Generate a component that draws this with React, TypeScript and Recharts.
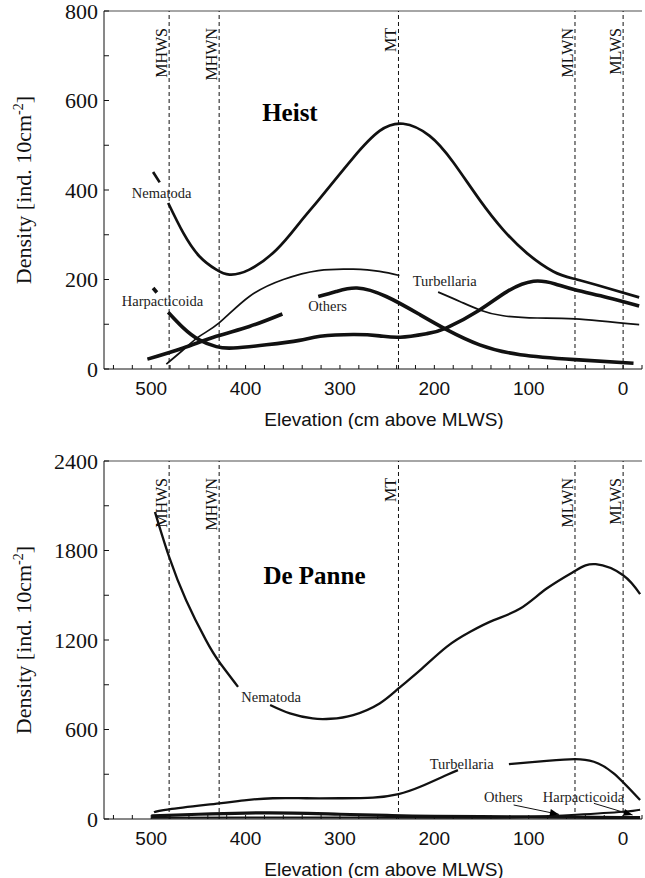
import React from 'react';
import { LineChart, Line, XAxis, YAxis, ReferenceLine, ReferenceDot } from 'recharts';

const SERIF = '"Liberation Serif", "Times New Roman", serif';
const SANS = '"Liberation Sans", Arial, sans-serif';
const INK = '#111';

// x axis (elevation, cm above MLWS)
const xTicks = [540, 520, 500, 480, 460, 440, 420, 400, 380, 360, 340, 320, 300, 280, 260, 240, 220, 200, 180, 160, 140, 120, 100, 80, 60, 40, 20, 0, -20];
const xTickLabels = [500, 400, 300, 200, 100, 0];

// tidal levels
const tideNames = ['MHWS', 'MHWN', 'MT', 'MLWN', 'MLWS'];
const tideElev = [481, 428, 238, 51, 0];

// ---- Heist ----
const heistYTicks = [0, 100, 200, 300, 400, 500, 600, 700, 800];
const heistYLabels = [0, 200, 400, 600, 800];

// null = gap left for a label
const heistNemElev = [498, 491, 487, 482, 466, 449, 431, 417, 396, 367, 343, 321, 286, 258, 233, 205, 180, 152, 127, 102, 74, 51, 17, -17];
const heistNemDens = [440, 417, null, 371, 304, 252, 222, 211, 222, 267, 326, 382, 472, 532, 548, 521, 462, 378, 311, 259, 218, 201, 181, 160];

const heistHarpElev = [498, 494, 489, 482, 466, 449, 431, 413, 378, 343, 321, 286, 258, 236, 208, 187, 152, 123, 95, 72, 51, 17, -17];
const heistHarpDens = [181, 171, null, 127, 92, 65, 50, 47, 54, 64, 73, 77, 74, 71, 79, 92, 132, 173, 196, 190, 177, 160, 141];

const heistTurbElev = [484, 466, 449, 428, 396, 360, 323, 286, 258, 237, 215, 196, 173, 152, 127, 91, 51, -17];
const heistTurbDens = [11, 43, 73, 103, 162, 200, 220, 223, 218, 209, null, 172, 151, 132, 119, 114, 112, 99];

const heistOthElev = [504, 466, 431, 396, 361, 342, 323, 304, 282, 251, 215, 187, 152, 109, 51, -11];
const heistOthDens = [22, 47, 73, 95, 123, null, 162, 173, 181, 162, 121, 88, 54, 32, 21, 13];

const heistTagText = ['Nematoda', 'Harpacticoida', 'Others', 'Turbellaria'];
const heistTagElev = [489, 488, 313, 189];
const heistTagDens = [393, 151, 140, 196];

// ---- De Panne ----
const panneYTicks = [0, 300, 600, 900, 1200, 1500, 1800, 2100, 2400];
const panneYLabels = [0, 600, 1200, 1800, 2400];

const panneNemElev = [496, 481, 463, 442, 428, 408, 390, 374, 353, 329, 310, 286, 258, 238, 215, 187, 162, 137, 109, 81, 51, 29, 0, -18];
const panneNemDens = [2058, 1757, 1467, 1199, 1054, 886, null, 764, 708, 674, 672, 697, 775, 875, 998, 1154, 1255, 1333, 1411, 1545, 1663, 1708, 1634, 1507];

const panneTurbElev = [497, 481, 428, 399, 371, 336, 300, 265, 238, 215, 187, 175, 150, 121, 81, 51, 31, 10, -18];
const panneTurbDens = [45, 65, 105, 127, 139, 139, 139, 143, 167, 216, 295, 328, null, 368, 390, 402, 384, 306, 127];

const panneOthElev = [500, 450, 400, 350, 300, 250, 200, 100, 50, 0, -18];
const panneOthDens = [20, 32, 40, 40, 32, 24, 18, 14, 12, 10, 10];

const panneHarpElev = [500, 400, 300, 200, 150, 100, 50, 0, -18];
const panneHarpDens = [8, 10, 10, 8, 8, 14, 28, 48, 62];

const panneTagText = ['Nematoda', 'Turbellaria', 'Others', 'Harpacticoida'];
const panneTagElev = [373, 171, 127, 42];
const panneTagDens = [815, 368, 145, 149];

// label arrows: from (elev, dens) to (elev, dens)
const panneArrowFrom = [[116, 94], [31, 105]];
const panneArrowTo = [[68, 31], [-10, 27]];
const panneArrowAngle = [12, 17];

const pts = (xs: number[], ys: (number | null)[]) => xs.map((x, i) => ({ x, y: ys[i] }));

const centerText = (text: string, size: number, bold = false) => (props: any) => {
  const vb = props.viewBox;
  const cx = vb.x + vb.width / 2;
  const cy = vb.y + vb.height / 2;
  return (
    <text x={cx} y={cy} textAnchor="middle" dominantBaseline="central" fontFamily={SERIF}
      fontSize={size} fontWeight={bold ? 'bold' : 'normal'} fill={bold ? '#000' : '#222'}>
      {text}
    </text>
  );
};

const tideLabel = (name: string) => (props: any) => {
  const { x, y } = props.viewBox;
  const bx = x - 2;
  const by = y + 17;
  return (
    <text transform={`rotate(-90 ${bx} ${by})`} x={bx} y={by} textAnchor="end"
      fontFamily={SERIF} fontSize={16} fill="#111">
      {name}
    </text>
  );
};

const YTitle = (props: any) => {
  const { y, height } = props.viewBox;
  const cx = 31;
  const cy = y + height / 2;
  return (
    <text transform={`rotate(-90 ${cx} ${cy})`} x={cx} y={cy} textAnchor="middle"
      fontFamily={SERIF} fontSize={22} fill="#111">
      Density [ind. 10cm<tspan dy={-8} fontSize={14}>-2</tspan><tspan dy={8}>]</tspan>
    </text>
  );
};

const XTitle = (props: any) => {
  const { x, y } = props.viewBox;
  return (
    <text x={x + 280} y={y + 50} textAnchor="middle" dominantBaseline="central"
      fontFamily={SANS} fontSize={19} fill="#111">
      Elevation (cm above MLWS)
    </text>
  );
};

const arrowHead = (angle: number) => (p: any) => (
  <polygon
    points={`${p.cx},${p.cy} ${p.cx - 9},${p.cy - 3.5} ${p.cx - 9},${p.cy + 3.5}`}
    transform={`rotate(${angle} ${p.cx} ${p.cy})`}
    fill="#000"
  />
);

type Series = { data: { x: number; y: number | null }[]; width: number };

interface PanelProps {
  top: number;
  height: number;
  xAxisHeight: number;
  yMax: number;
  yTicks: number[];
  yLabels: number[];
  series: Series[];
  title: string;
  titleElev: number;
  titleDens: number;
  tagText: string[];
  tagElev: number[];
  tagDens: number[];
  arrowFrom?: number[][];
  arrowTo?: number[][];
  arrowAngle?: number[];
}

const Panel = (p: PanelProps) => (
  <div style={{ position: 'absolute', left: 0, top: p.top }}>
    <LineChart width={645} height={p.height} margin={{ top: 11, right: 3, left: 0, bottom: 0 }}>
      <XAxis
        type="number"
        dataKey="x"
        domain={[-20, 550]}
        reversed
        allowDataOverflow
        ticks={xTicks}
        interval={0}
        tickFormatter={(v: number) => (xTickLabels.includes(v) ? String(v) : '')}
        tickSize={-4}
        tickMargin={17}
        height={p.xAxisHeight}
        stroke="#111"
        tick={{ fontFamily: SANS, fontSize: 19, fill: '#111' }}
        label={XTitle}
      />
      <YAxis
        type="number"
        domain={[0, p.yMax]}
        ticks={p.yTicks}
        interval={0}
        allowDataOverflow
        tickFormatter={(v: number) => (p.yLabels.includes(v) ? String(v) : '')}
        width={104}
        tickSize={-5}
        tickMargin={11}
        stroke="#111"
        tick={{ fontFamily: SERIF, fontSize: 22, fill: '#111' }}
        label={YTitle}
      />
      <ReferenceLine y={p.yMax} stroke="#888" strokeWidth={1.5} />
      {tideNames.map((n, i) => (
        <ReferenceLine key={n} x={tideElev[i]} stroke="#111" strokeWidth={1} strokeDasharray="4 3" label={tideLabel(n)} />
      ))}
      {p.series.map((s, i) => (
        <Line
          key={i}
          data={s.data}
          dataKey="y"
          type="natural"
          stroke={INK}
          strokeWidth={s.width}
          dot={false}
          activeDot={false}
          isAnimationActive={false}
        />
      ))}
      <ReferenceDot x={p.titleElev} y={p.titleDens} r={0} fill="none" stroke="none" label={centerText(p.title, 25, true)} />
      {p.tagText.map((t, i) => (
        <ReferenceDot key={t} x={p.tagElev[i]} y={p.tagDens[i]} r={0} fill="none" stroke="none" label={centerText(t, 14.5)} />
      ))}
      {(p.arrowFrom || []).map((f, i) => (
        <ReferenceLine
          key={'a' + i}
          segment={[{ x: f[0], y: f[1] }, { x: p.arrowTo![i][0], y: p.arrowTo![i][1] }]}
          stroke="#111"
          strokeWidth={1}
        />
      ))}
      {(p.arrowTo || []).map((t, i) => (
        <ReferenceDot key={'h' + i} x={t[0]} y={t[1]} r={3} shape={arrowHead(p.arrowAngle![i])} />
      ))}
    </LineChart>
  </div>
);

export default function App() {
  return (
    <div style={{ position: 'absolute', left: 0, top: 0, width: 645, height: 878, background: '#fff' }}>
      <Panel
        top={0}
        height={429}
        xAxisHeight={60}
        yMax={800}
        yTicks={heistYTicks}
        yLabels={heistYLabels}
        series={[
          { data: pts(heistNemElev, heistNemDens), width: 2.7 },
          { data: pts(heistHarpElev, heistHarpDens), width: 3.6 },
          { data: pts(heistTurbElev, heistTurbDens), width: 1.7 },
          { data: pts(heistOthElev, heistOthDens), width: 3.6 },
        ]}
        title="Heist"
        titleElev={353}
        titleDens={573}
        tagText={heistTagText}
        tagElev={heistTagElev}
        tagDens={heistTagDens}
      />
      <Panel
        top={450}
        height={428}
        xAxisHeight={59}
        yMax={2400}
        yTicks={panneYTicks}
        yLabels={panneYLabels}
        series={[
          { data: pts(panneNemElev, panneNemDens), width: 2.3 },
          { data: pts(panneTurbElev, panneTurbDens), width: 2.3 },
          { data: pts(panneOthElev, panneOthDens), width: 3.2 },
          { data: pts(panneHarpElev, panneHarpDens), width: 2 },
        ]}
        title="De Panne"
        titleElev={327}
        titleDens={1634}
        tagText={panneTagText}
        tagElev={panneTagElev}
        tagDens={panneTagDens}
        arrowFrom={panneArrowFrom}
        arrowTo={panneArrowTo}
        arrowAngle={panneArrowAngle}
      />
    </div>
  );
}
